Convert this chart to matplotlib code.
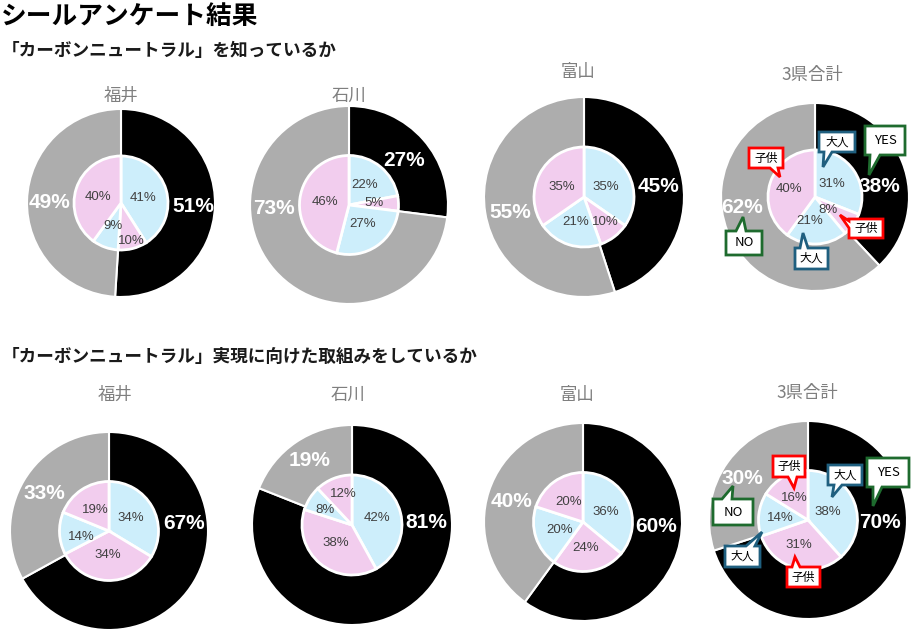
import matplotlib
matplotlib.use('Agg')
import matplotlib.pyplot as plt
from matplotlib.patches import Polygon

plt.rcParams['font.family'] = ['Noto Sans CJK JP', 'DejaVu Sans']

# data
prefs = ['福井', '石川', '富山', '3県合計']
know_yes = [51, 27, 45, 38]
know_no = [49, 73, 55, 62]
# inner ring: adult yes, child yes, adult no, child no
know_inner = [[41, 10, 9, 40], [22, 5, 27, 46], [35, 10, 21, 35], [31, 8, 21, 40]]
act_yes = [67, 81, 60, 70]
act_no = [33, 19, 40, 30]
act_inner = [[34, 34, 14, 19], [42, 38, 8, 12], [36, 24, 20, 20], [38, 31, 14, 16]]

main_title = 'シールアンケート結果'
q1_title = '「カーボンニュートラル」を知っているか'
q2_title = '「カーボンニュートラル」実現に向けた取組みをしているか'

W, H = 918, 633
BLACK = '#000000'
GRAY = '#adadad'
BLUE = '#cdeefb'
PINK = '#f2cdee'
C_ADULT = '#1f5f7f'
C_CHILD = '#ff0000'
C_YN = '#1e6b2e'

# layout (pixel coords, y measured from top)
centers = [[(121, 203), (349, 205), (584, 197), (815, 197)],
           [(109, 531), (352, 525), (583, 522), (808, 520)]]
radii = [[94, 99, 100, 94], [99, 100, 99, 99]]
title_pos = [[(121, 96), (349, 96), (578, 72), (812, 75)],
             [(115, 395), (348, 395), (577, 395), (807, 393)]]
# label offsets as fraction of outer radius (x right, y up)
outer_lbl = [[[(0.77, -0.04), (-0.76, 0.01)], [(0.56, 0.45), (-0.76, -0.04)],
              [(0.74, 0.10), (-0.74, -0.16)], [(0.69, 0.11), (-0.78, -0.11)]],
             [[(0.76, 0.08), (-0.65, 0.38)], [(0.74, 0.02), (-0.42, 0.65)],
              [(0.74, -0.05), (-0.72, 0.21)], [(0.73, -0.03), (-0.66, 0.42)]]]
inner_lbl = [[[(0.23, 0.05), (0.11, -0.40), (-0.09, -0.24), (-0.24, 0.06)],
              [(0.16, 0.20), (0.25, 0.02), (0.14, -0.19), (-0.24, 0.03)],
              [(0.22, 0.10), (0.21, -0.25), (-0.08, -0.25), (-0.22, 0.10)],
              [(0.18, 0.14), (0.14, -0.14), (-0.06, -0.26), (-0.28, 0.09)]],
             [[(0.22, 0.13), (-0.01, -0.24), (-0.28, -0.06), (-0.14, 0.21)],
              [(0.25, 0.07), (-0.16, -0.18), (-0.27, 0.15), (-0.09, 0.31)],
              [(0.23, 0.10), (0.03, -0.26), (-0.24, -0.08), (-0.15, 0.20)],
              [(0.20, 0.08), (-0.09, -0.25), (-0.28, 0.02), (-0.14, 0.22)]]]

# callouts: text, color, rect (x0, y0, x1, y1), tail side, tail base, tip
callouts = [
    ('大人', C_ADULT, (819, 132, 855, 152), 'bottom', (824, 832), (823, 167)),
    ('YES', C_YN, (865, 126, 905, 155), 'bottom', (870, 880), (869, 175)),
    ('子供', C_CHILD, (749, 148, 783, 168), 'bottom', (770, 778), (780, 177)),
    ('子供', C_CHILD, (849, 219, 883, 238), 'left', (221, 228), (840, 215)),
    ('大人', C_ADULT, (795, 248, 828, 269), 'top', (800, 808), (803, 233)),
    ('NO', C_YN, (726, 231, 762, 255), 'top', (736, 746), (743, 217)),
    ('子供', C_CHILD, (773, 456, 805, 477), 'bottom', (788, 797), (794, 488)),
    ('大人', C_ADULT, (828, 465, 862, 485), 'bottom', (834, 842), (832, 497)),
    ('YES', C_YN, (867, 458, 909, 487), 'bottom', (873, 882), (873, 506)),
    ('NO', C_YN, (713, 499, 753, 525), 'top', (722, 732), (733, 486)),
    ('大人', C_ADULT, (725, 546, 760, 567), 'top', (746, 755), (762, 532)),
    ('子供', C_CHILD, (787, 567, 820, 587), 'top', (792, 800), (795, 557)),
]

fig = plt.figure(figsize=(W / 100, H / 100), dpi=100)
ax = fig.add_axes([0, 0, 1, 1])


def fy(y):
    return H - y


rows = [(know_yes, know_no, know_inner), (act_yes, act_no, act_inner)]
for r, (yes, no, inner) in enumerate(rows):
    for i in range(4):
        cx, cy = centers[r][i]
        rad = radii[r][i]
        c = (cx, fy(cy))
        ax.pie([yes[i], no[i]], center=c, radius=rad, colors=[BLACK, GRAY],
               startangle=90, counterclock=False,
               wedgeprops=dict(edgecolor='white', linewidth=1.5))
        ax.pie(inner[i], center=c, radius=rad * 0.5, colors=[BLUE, PINK, BLUE, PINK],
               startangle=90, counterclock=False,
               wedgeprops=dict(edgecolor='white', linewidth=2))
        for v, (dx, dy) in zip([yes[i], no[i]], outer_lbl[r][i]):
            ax.text(cx + dx * rad, fy(cy) + dy * rad, f'{v}%', ha='center', va='center',
                    color='white', fontsize=15, fontweight='bold',
                    family=['Liberation Sans', 'DejaVu Sans'])
        for v, (dx, dy) in zip(inner[i], inner_lbl[r][i]):
            ax.text(cx + dx * rad, fy(cy) + dy * rad, f'{v}%', ha='center', va='center',
                    color='#404040', fontsize=9.5, family=['Liberation Sans', 'DejaVu Sans'])
        tx, ty = title_pos[r][i]
        ax.text(tx, fy(ty), prefs[i], ha='center', va='center', color='#7f7f7f', fontsize=12.5)

# speech bubbles
for txt, col, (x0, y0, x1, y1), side, (a, b), tip in callouts:
    if side == 'bottom':
        pts = [(x0, y0), (x1, y0), (x1, y1), (b, y1), tip, (a, y1), (x0, y1)]
    elif side == 'top':
        pts = [(x0, y0), (a, y0), tip, (b, y0), (x1, y0), (x1, y1), (x0, y1)]
    else:
        pts = [(x0, y0), (x1, y0), (x1, y1), (x0, y1), (x0, b), tip, (x0, a)]
    pts = [(px, fy(py)) for px, py in pts]
    ax.add_patch(Polygon(pts, closed=True, facecolor='white', edgecolor=col,
                         linewidth=2, zorder=5, joinstyle='miter'))
    ax.text((x0 + x1) / 2, fy((y0 + y1) / 2), txt, ha='center', va='center',
            fontsize=8.5 if txt in ('大人', '子供') else 9.5, color='black', zorder=6)

fig.text(1 / W, 1 - 16 / H, main_title, ha='left', va='center', fontsize=18.5, fontweight='bold')
fig.text(2 / W, 1 - 51 / H, q1_title, ha='left', va='center', fontsize=12.7,
         fontweight='bold', color='#1a1a1a')
fig.text(2 / W, 1 - 357 / H, q2_title, ha='left', va='center', fontsize=12.7,
         fontweight='bold', color='#1a1a1a')

ax.set_xlim(0, W)
ax.set_ylim(0, H)
ax.set_aspect('auto')
ax.axis('off')

fig.savefig('out.png', dpi=100)
